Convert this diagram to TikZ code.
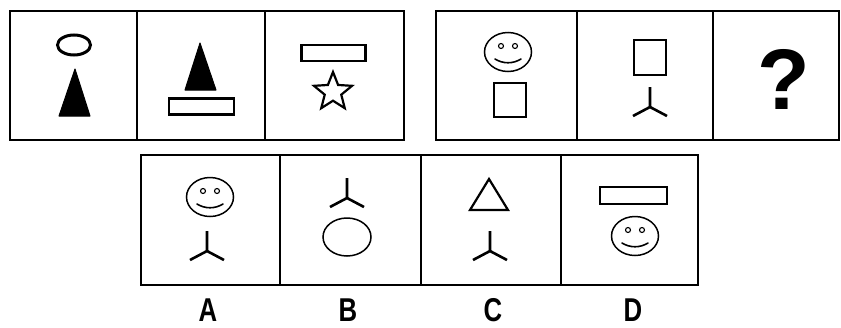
\documentclass[tikz,border=0pt]{standalone}
\usepackage{fontspec}
\setmainfont{Liberation Sans}
\usepackage{graphicx}
\usepackage{tikz}
\usetikzlibrary{shapes.geometric}

% smiling face: name, centre
\newcommand{\smiley}[2]{%
    \node[face] (#1) at (#2) {};
    \node[eye] (#1-le) at ([shift={(-7,-6)}]#1.center) {};
    \node[eye] (#1-re) at ([shift={(7,-6)}]#1.center) {};
    \draw[mouth] ([shift={(-13,7)}]#1.center) .. controls ([shift={(-5,12)}]#1.center) and ([shift={(5,12)}]#1.center) .. ([shift={(13,7)}]#1.center);
}
% three-legged mark: name, junction
\newcommand{\tripod}[2]{%
    \coordinate (#1) at (#2);
    \draw[leg] ([shift={(0,-20)}]#1) -- (#1) -- ([shift={(-17,9)}]#1);
    \draw[leg] (#1) -- ([shift={(17,9)}]#1);
}

\begin{document}
\begin{tikzpicture}[
    x=1pt, y=-1pt,
    cell/.style={rectangle, draw, line width=2.8pt, minimum width=#1, minimum height=129pt, inner sep=0pt},
    bar/.style={rectangle, draw, line width=2.4pt, minimum width=64pt, minimum height=16pt, inner sep=0pt},
    boxsq/.style={rectangle, draw, line width=2.4pt, minimum width=32pt, minimum height=34pt, inner sep=0pt},
    face/.style={ellipse, draw, line width=1.5pt, minimum width=47pt, minimum height=39pt, inner sep=0pt},
    eye/.style={circle, draw, line width=1.1pt, minimum size=5pt, inner sep=0pt},
    mouth/.style={line width=1.6pt, line cap=round},
    leg/.style={line width=2.6pt},
    solidtri/.style={fill=black, draw, line width=1pt, line join=round},
    choice/.style={font=\fontsize{33}{33}\selectfont\bfseries, inner sep=0pt}
]
    \useasboundingbox (0,0) rectangle (841,327);

    % Question row, left group
    \node[cell=127pt] (c1) at (73.5,75.5) {};
    \node[cell=128pt] (c2) at (201,75.5) {};
    \node[cell=139pt] (c3) at (334.5,75.5) {};
    % Question row, right group
    \node[cell=141pt] (c4) at (506.5,75.5) {};
    \node[cell=136pt] (c5) at (645,75.5) {};
    \node[cell=126pt] (c6) at (776,75.5) {};
    % Answer row
    \node[cell=139pt, minimum height=130pt] (ca) at (210.5,220) {};
    \node[cell=141pt, minimum height=130pt] (cb) at (350.5,220) {};
    \node[cell=140pt, minimum height=130pt] (cc) at (491,220) {};
    \node[cell=137pt, minimum height=130pt] (cd) at (629.5,220) {};

    % Cell 1: ring over solid cone
    \node[ellipse, draw, line width=3pt, minimum width=33pt, minimum height=20pt, inner sep=0pt] (ring) at (74,45) {};
    \draw[solidtri] (75,69) -- (90,116) -- (59,116) -- cycle;

    % Cell 2: solid cone over bar
    \draw[solidtri] (200,43) -- (216,90) -- (185,90) -- cycle;
    \node[bar, minimum width=65pt] (bar2) at (201.5,106.5) {};

    % Cell 3: bar over star
    \node[bar] (bar3) at (333.5,53) {};
    \node[star, star points=5, star point ratio=2.3, minimum size=40pt, draw, line width=2.2pt, inner sep=0pt] (st) at (333,92) {};

    % Cell 4: face over square
    \smiley{f4}{508,52}
    \node[boxsq] (sq4) at (510,100) {};

    % Cell 5: square over tripod
    \node[boxsq, minimum height=35pt] (sq5) at (650,57.5) {};
    \tripod{t5}{650,107}

    % Cell 6
    \node[font=\fontsize{86}{86}\selectfont\bfseries, inner sep=0pt] (q) at (784,79) {?};

    % Option A
    \smiley{fa}{210,197}
    \tripod{ta}{207,251}
    % Option B
    \tripod{tb}{347,198}
    \node[ellipse, draw, line width=1.5pt, minimum width=48pt, minimum height=38pt, inner sep=0pt] (ob) at (347,237) {};
    % Option C
    \draw[line width=2.2pt, line join=miter] (489,179) -- (508,210) -- (470,210) -- cycle;
    \tripod{tc}{490,251}
    % Option D
    \node[bar, minimum width=67pt, minimum height=17pt] (bard) at (633.5,195.5) {};
    \smiley{fd}{635,236}

    % Option letters
    \node[choice] (la) at (208,310) {\scalebox{0.78}[1]{A}};
    \node[choice] (lb) at (348,310) {\scalebox{0.78}[1]{B}};
    \node[choice] (lc) at (493,310) {\scalebox{0.78}[1]{C}};
    \node[choice] (ld) at (633,310) {\scalebox{0.78}[1]{D}};
\end{tikzpicture}
\end{document}
